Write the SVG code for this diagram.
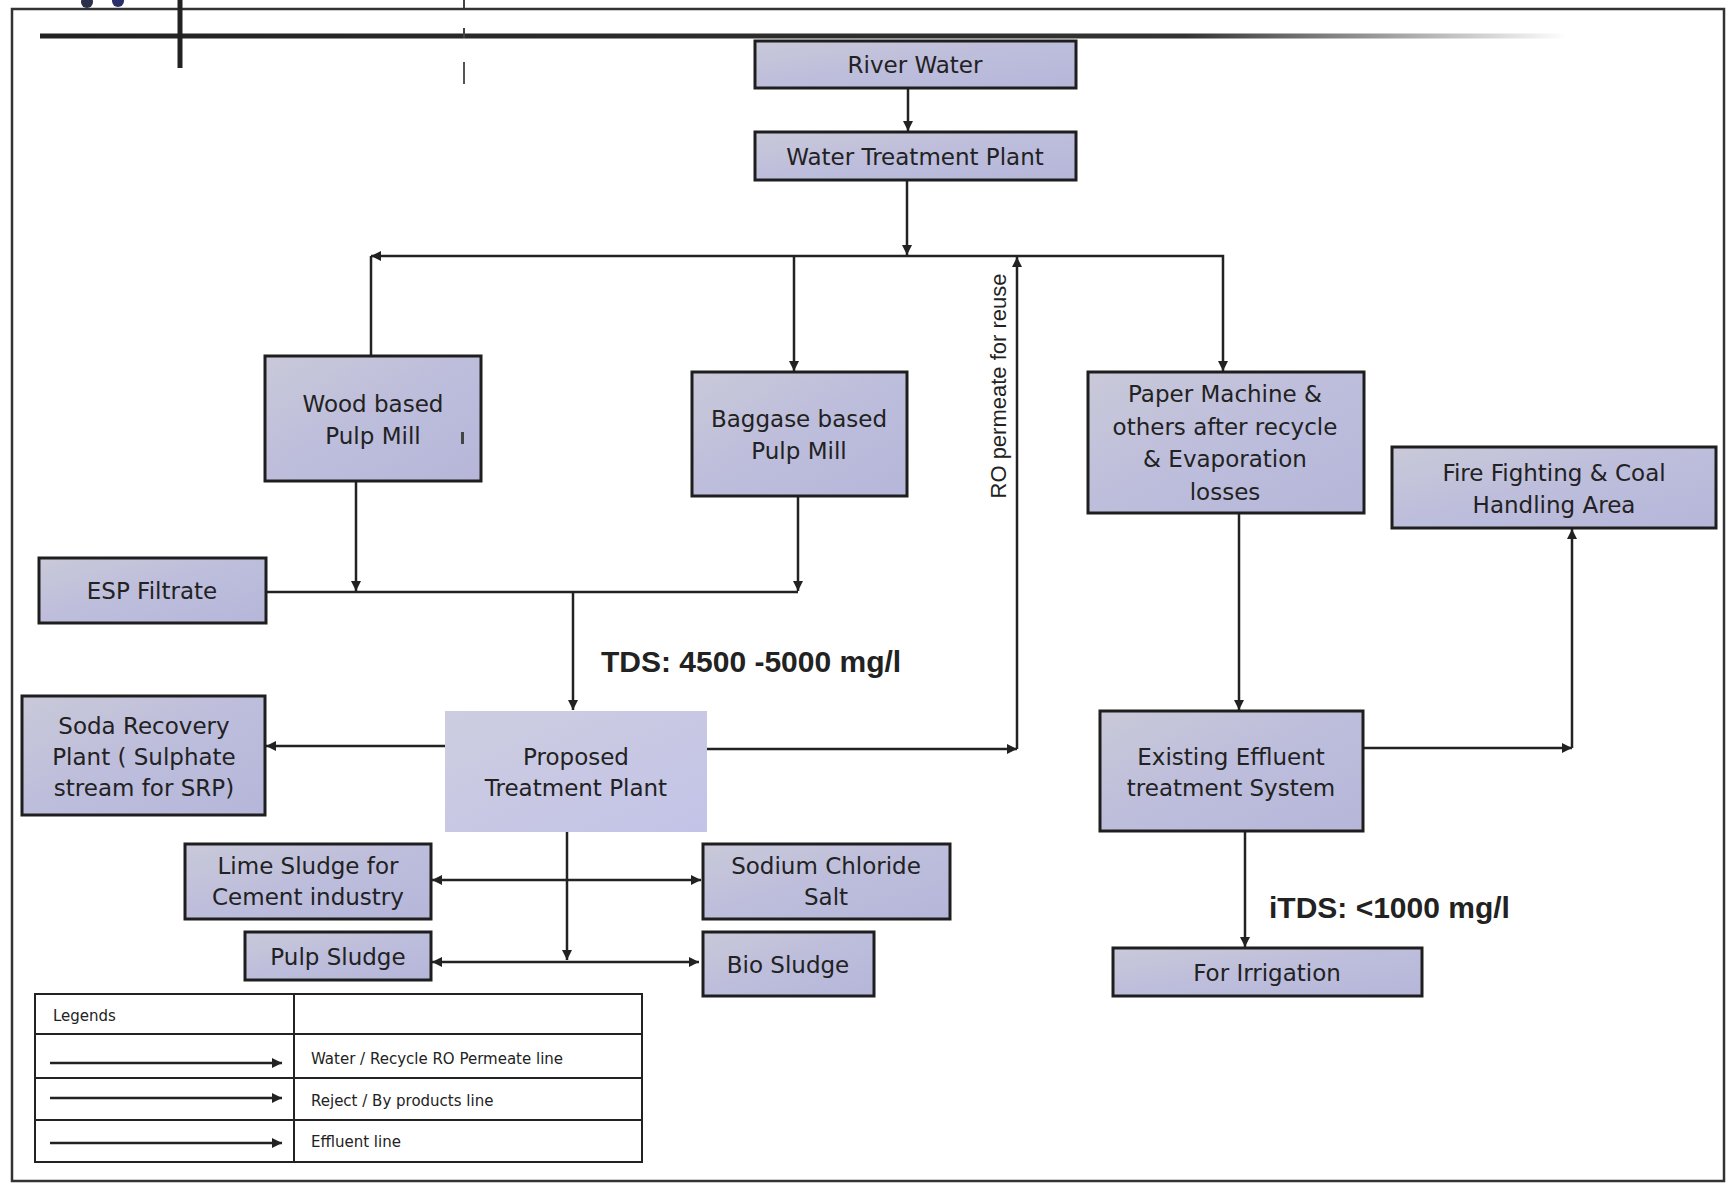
<svg xmlns="http://www.w3.org/2000/svg" width="1730" height="1184" viewBox="0 0 1730 1184">
  <defs>
    <linearGradient id="boxFill" x1="0" y1="0" x2="1" y2="1">
      <stop offset="0" stop-color="#c9c9d9"/>
      <stop offset="0.5" stop-color="#bdbddc"/>
      <stop offset="1" stop-color="#b6b6da"/>
    </linearGradient>
    <linearGradient id="softFill" x1="0" y1="0" x2="1" y2="1">
      <stop offset="0" stop-color="#cdcde0"/>
      <stop offset="1" stop-color="#c3c3e8"/>
    </linearGradient>
    <linearGradient id="headRule" gradientUnits="userSpaceOnUse" x1="40" y1="36" x2="1567" y2="36">
      <stop offset="0" stop-color="#222"/>
      <stop offset="0.75" stop-color="#333"/>
      <stop offset="1" stop-color="#333" stop-opacity="0"/>
    </linearGradient>
    <marker id="arrow" viewBox="0 0 10 10" refX="10" refY="5" markerWidth="10" markerHeight="10" markerUnits="userSpaceOnUse" orient="auto-start-reverse">
      <path d="M0,0 L10,5 L0,10 Z" fill="#222"/>
    </marker>
    <style>
      .box { fill: url(#boxFill); stroke: #1e1e1e; stroke-width: 3; }
      .soft { fill: url(#softFill); stroke: none; }
      .lbl { font-family: "DejaVu Sans", Verdana, sans-serif; font-size: 23px; fill: #222; text-anchor: middle; }
      .wire { fill: none; stroke: #222; stroke-width: 2.5; }
      .wireA { fill: none; stroke: #222; stroke-width: 2.5; marker-end: url(#arrow); }
      .wireAA { fill: none; stroke: #222; stroke-width: 2.5; marker-start: url(#arrow); marker-end: url(#arrow); }
      .note { font-family: "Liberation Sans", Arial, sans-serif; font-weight: bold; font-size: 30px; fill: #222; }
      .side { font-family: "Liberation Sans", Arial, sans-serif; font-size: 22px; fill: #222; text-anchor: middle; }
      .leg { font-family: "DejaVu Sans", Verdana, sans-serif; font-size: 15px; fill: #222; }
      .grid { fill: none; stroke: #222; stroke-width: 2; }
    </style>
  </defs>

  <rect width="1730" height="1184" fill="#ffffff"/>

  <!-- page frame and header rules -->
  <g id="frame">
    <circle cx="87" cy="2" r="6" fill="#2a2f4a"/>
    <circle cx="118" cy="1" r="6" fill="#2a2f6a"/>
    <rect x="12" y="9" width="1712" height="1172" fill="none" stroke="#333" stroke-width="2.5"/>
    <rect x="40" y="33.5" width="1527" height="5" fill="url(#headRule)"/>
    <line x1="180" y1="0" x2="180" y2="68" stroke="#222" stroke-width="5"/>
    <line x1="464" y1="0" x2="464" y2="8" stroke="#444" stroke-width="2"/>
    <line x1="464" y1="28" x2="464" y2="38" stroke="#444" stroke-width="2"/>
    <line x1="464" y1="62" x2="464" y2="84" stroke="#555" stroke-width="2"/>
  </g>

  <!-- connectors -->
  <g id="connectors">
    <path class="wireA" d="M908,88 V131"/>
    <path class="wireA" d="M907,180 V255"/>
    <path class="wireA" d="M907,256 H371"/>
    <path class="wire" d="M371,256 V356"/>
    <path class="wireA" d="M907,256 H1223 V371"/>
    <path class="wireA" d="M794,256 V371"/>
    <path class="wireA" d="M356,481 V591"/>
    <path class="wireA" d="M798,496 V591"/>
    <path class="wire" d="M266,592 H798"/>
    <path class="wireA" d="M573,592 V710"/>
    <path class="wireA" d="M445,746 H266"/>
    <path class="wireA" d="M707,749 H1017"/>
    <path class="wireA" d="M1017,749 V257"/>
    <path class="wireA" d="M1239,513 V710"/>
    <path class="wireA" d="M1363,748 H1572"/>
    <path class="wireA" d="M1572,748 V529"/>
    <path class="wireA" d="M1245,831 V947"/>
    <path class="wireA" d="M567,832 V960"/>
    <path class="wireAA" d="M432,880 H701"/>
    <path class="wireAA" d="M432,962 H699"/>
  </g>

  <!-- process blocks -->
  <g id="river-water">
    <rect class="box" x="755" y="41" width="321" height="47"/>
    <text class="lbl" x="915" y="73">River Water</text>
  </g>
  <g id="water-treatment-plant">
    <rect class="box" x="755" y="132" width="321" height="48"/>
    <text class="lbl" x="915" y="165">Water Treatment Plant</text>
  </g>
  <g id="wood-pulp-mill">
    <rect class="box" x="265" y="356" width="216" height="125"/>
    <text class="lbl" x="373" y="412">Wood based</text>
    <text class="lbl" x="373" y="444">Pulp Mill</text>
    <rect x="461" y="432" width="3" height="12" fill="#444"/>
  </g>
  <g id="baggase-pulp-mill">
    <rect class="box" x="692" y="372" width="215" height="124"/>
    <text class="lbl" x="799" y="427">Baggase based</text>
    <text class="lbl" x="799" y="459">Pulp Mill</text>
  </g>
  <g id="paper-machine">
    <rect class="box" x="1088" y="372" width="276" height="141"/>
    <text class="lbl" x="1225" y="402">Paper Machine &amp;</text>
    <text class="lbl" x="1225" y="435">others after recycle</text>
    <text class="lbl" x="1225" y="467">&amp; Evaporation</text>
    <text class="lbl" x="1225" y="500">losses</text>
  </g>
  <g id="fire-fighting">
    <rect class="box" x="1392" y="447" width="324" height="81"/>
    <text class="lbl" x="1554" y="481">Fire Fighting &amp; Coal</text>
    <text class="lbl" x="1554" y="513">Handling Area</text>
  </g>
  <g id="esp-filtrate">
    <rect class="box" x="39" y="558" width="227" height="65"/>
    <text class="lbl" x="152" y="599">ESP Filtrate</text>
  </g>
  <g id="soda-recovery">
    <rect class="box" x="22" y="696" width="243" height="119"/>
    <text class="lbl" x="144" y="734">Soda Recovery</text>
    <text class="lbl" x="144" y="765">Plant ( Sulphate</text>
    <text class="lbl" x="144" y="796">stream for SRP)</text>
  </g>
  <g id="proposed-treatment-plant">
    <rect class="soft" x="445" y="711" width="262" height="121"/>
    <text class="lbl" x="576" y="765">Proposed</text>
    <text class="lbl" x="576" y="796">Treatment Plant</text>
  </g>
  <g id="existing-etp">
    <rect class="box" x="1100" y="711" width="263" height="120"/>
    <text class="lbl" x="1231" y="765">Existing Effluent</text>
    <text class="lbl" x="1231" y="796">treatment System</text>
  </g>
  <g id="lime-sludge">
    <rect class="box" x="185" y="844" width="246" height="75"/>
    <text class="lbl" x="308" y="874">Lime Sludge for</text>
    <text class="lbl" x="308" y="905">Cement industry</text>
  </g>
  <g id="sodium-chloride">
    <rect class="box" x="703" y="844" width="247" height="75"/>
    <text class="lbl" x="826" y="874">Sodium Chloride</text>
    <text class="lbl" x="826" y="905">Salt</text>
  </g>
  <g id="pulp-sludge">
    <rect class="box" x="245" y="932" width="186" height="48"/>
    <text class="lbl" x="338" y="965">Pulp Sludge</text>
  </g>
  <g id="bio-sludge">
    <rect class="box" x="703" y="932" width="171" height="64"/>
    <text class="lbl" x="788" y="973">Bio Sludge</text>
  </g>
  <g id="irrigation">
    <rect class="box" x="1113" y="948" width="309" height="48"/>
    <text class="lbl" x="1267" y="981">For Irrigation</text>
  </g>

  <!-- stream annotations -->
  <g id="annotations">
    <text class="note" x="601" y="672">TDS: 4500 -5000 mg/l</text>
    <text class="note" x="1269" y="918">iTDS: &lt;1000 mg/l</text>
    <text class="side" transform="translate(1006,386) rotate(-90)">RO permeate for reuse</text>
  </g>

  <!-- legend table -->
  <g id="legend">
    <rect class="grid" x="35" y="994" width="607" height="168"/>
    <line class="grid" x1="294" y1="994" x2="294" y2="1162"/>
    <line class="grid" x1="35" y1="1034" x2="642" y2="1034"/>
    <line class="grid" x1="35" y1="1078" x2="642" y2="1078"/>
    <line class="grid" x1="35" y1="1120" x2="642" y2="1120"/>
    <text class="leg" x="53" y="1021">Legends</text>
    <path class="wireA" d="M50,1063 H282"/>
    <path class="wireA" d="M50,1098 H282"/>
    <path class="wireA" d="M50,1143 H282"/>
    <text class="leg" x="311" y="1064">Water / Recycle RO Permeate line</text>
    <text class="leg" x="311" y="1106">Reject / By products line</text>
    <text class="leg" x="311" y="1147">Effluent line</text>
  </g>
</svg>
